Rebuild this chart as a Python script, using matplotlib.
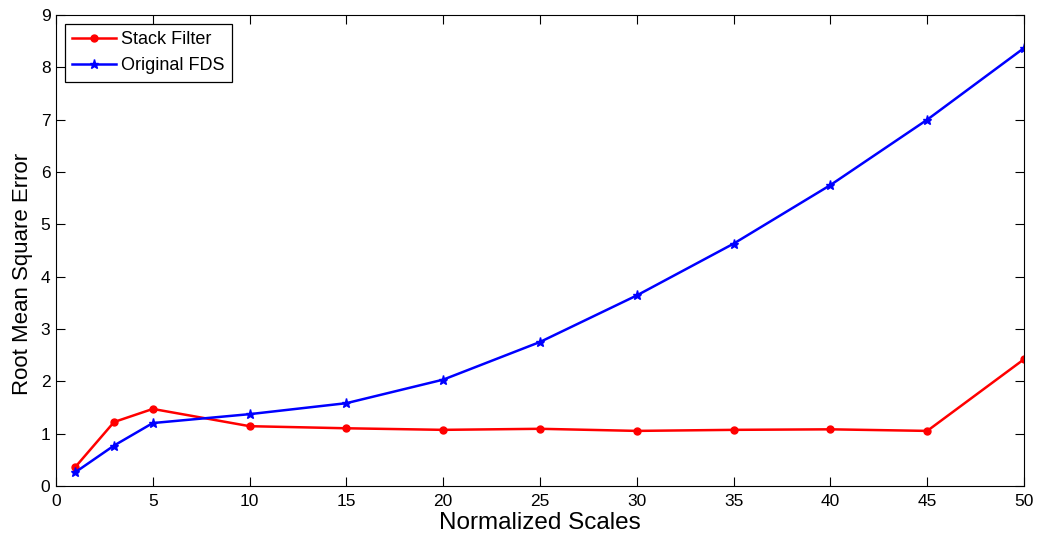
import matplotlib
matplotlib.use("Agg")
import matplotlib.pyplot as plt

plt.rcParams['font.family'] = ['Liberation Sans', 'DejaVu Sans']

scales = [1, 3, 5, 10, 15, 20, 25, 30, 35, 40, 45, 50]
stack_filter = [0.36, 1.22, 1.47, 1.14, 1.10, 1.07, 1.09, 1.05, 1.07, 1.08, 1.05, 2.42]
original_fds = [0.26, 0.77, 1.20, 1.37, 1.58, 2.03, 2.75, 3.64, 4.63, 5.75, 7.00, 8.37]

fig = plt.figure(figsize=(10.37, 5.38), dpi=100)
ax = fig.add_axes([0.054, 0.097, 0.9335, 0.875])

ax.plot(scales, stack_filter, color='#ff0000', marker='o', markersize=5, lw=1.8, label='Stack Filter')
ax.plot(scales, original_fds, color='#0000ff', marker='*', markersize=6.5, lw=1.8, label='Original FDS')

ax.set_xlim(0, 50)
ax.set_ylim(0, 9)
ax.set_xticks(range(0, 51, 5))
ax.set_yticks(range(0, 10))
ax.tick_params(direction='in', top=True, right=True, labelsize=12.5, length=6.5)
ax.tick_params(axis='x', pad=6)
ax.tick_params(axis='y', pad=4)
ax.set_xlabel('Normalized Scales', fontsize=17.5, labelpad=2)
ax.set_ylabel('Root Mean Square Error', fontsize=16, labelpad=4)
ax.yaxis.set_label_coords(-0.024, 0.45)

leg = ax.legend(loc='upper left', fontsize=13, fancybox=False, framealpha=1,
                edgecolor='black', borderaxespad=0.5, handlelength=2.4, handletextpad=0.3,
                labelspacing=0.5, borderpad=0.4)
leg.get_frame().set_linewidth(0.9)

fig.savefig('out.png', dpi=100)
